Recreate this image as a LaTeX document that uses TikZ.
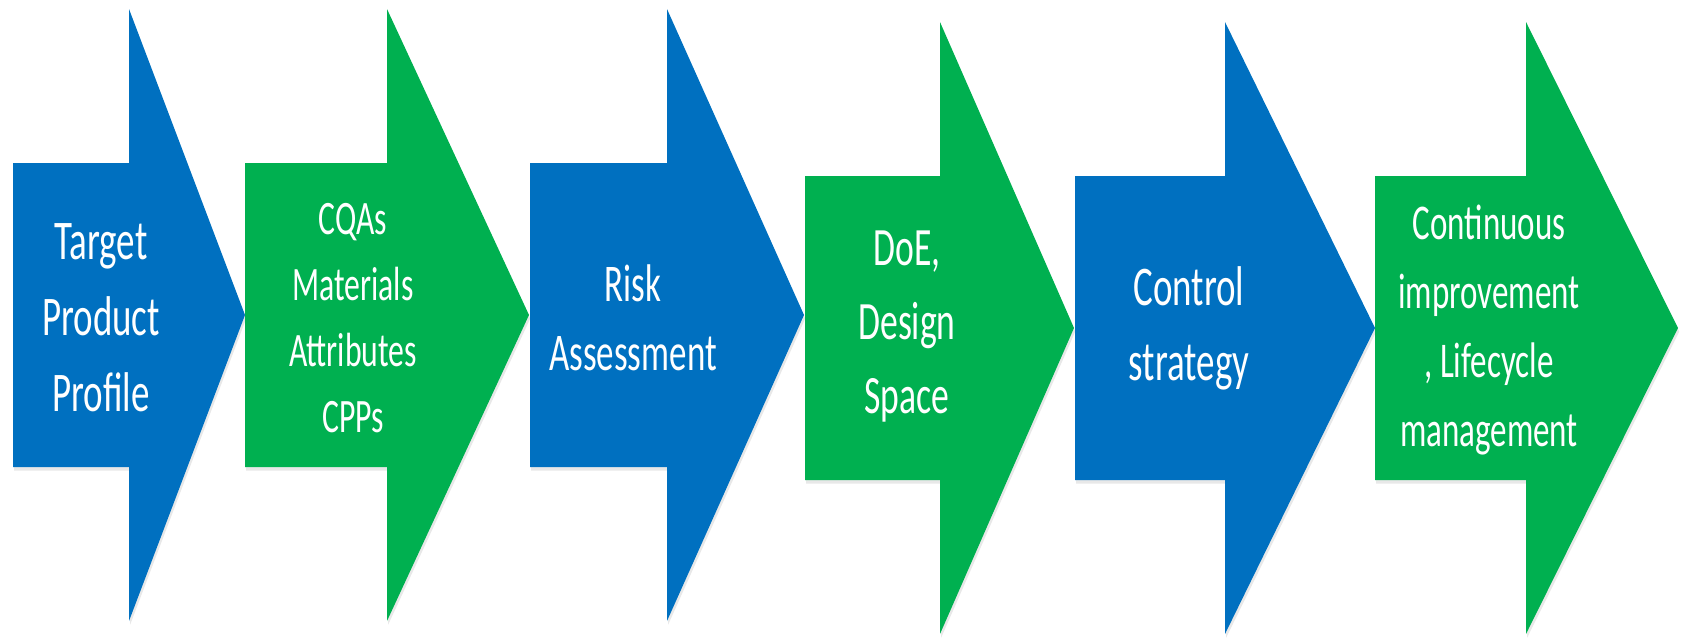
\documentclass[tikz,border=0pt]{standalone}
\usepackage{fontspec,
tikz
}
\setmainfont{Carlito}[FakeStretch=0.66]
\usetikzlibrary{shadows}
\definecolor{qbdblue}{HTML}{0070C0}
\definecolor{qbdgreen}{HTML}{00B050}

\begin{document}
\begin{tikzpicture}[x=0.5pt, y=-0.5pt,
    arrowtext/.style={text=white, align=center, inner sep=0pt}]
    \useasboundingbox (0,0) rectangle (1683,638);

    % Draw the six process arrows (left end / head base / tip / axis / colour)
    \foreach \lft/\bse/\tip/\cy/\col in {13/129/245/315/qbdblue, 245/387/529/315/qbdgreen,
        530/667/804/315/qbdblue, 805/940/1074/328/qbdgreen,
        1075/1225/1375/328/qbdblue, 1375/1526/1678/328/qbdgreen}
        \fill[\col, drop shadow={shadow xshift=0.6pt, shadow yshift=-1.8pt, opacity=0.18}]
            (\lft,\cy-152) -- (\bse,\cy-152) -- (\bse,\cy-306) -- (\tip,\cy)
            -- (\bse,\cy+306) -- (\bse,\cy+152) -- (\lft,\cy+152) -- cycle;

    % Add labels
    \node[arrowtext, font=\fontsize{28}{38}\selectfont] (tpp) at (101,318)
        {Target\\Product\\Profile};
    \node[arrowtext, font=\fontsize{24}{33}\selectfont] (cqas) at (353,318)
        {CQAs\\Materials\\Attributes\\CPPs};
    \node[arrowtext, font=\fontsize{26.5}{34.5}\selectfont] (risk) at (633,318)
        {Risk\\Assessment};
    \node[arrowtext, font=\fontsize{27}{37}\selectfont] (doe) at (907,327)
        {DoE,\\Design\\Space};
    \node[arrowtext, font=\fontsize{28}{37.5}\selectfont] (control) at (1189,328)
        {Control\\strategy};
    \node[arrowtext, font=\fontsize{25}{34.5}\selectfont] (lifecycle) at (1489,330)
        {Continuous\\improvement\\, Lifecycle\\management};
\end{tikzpicture}
\end{document}
